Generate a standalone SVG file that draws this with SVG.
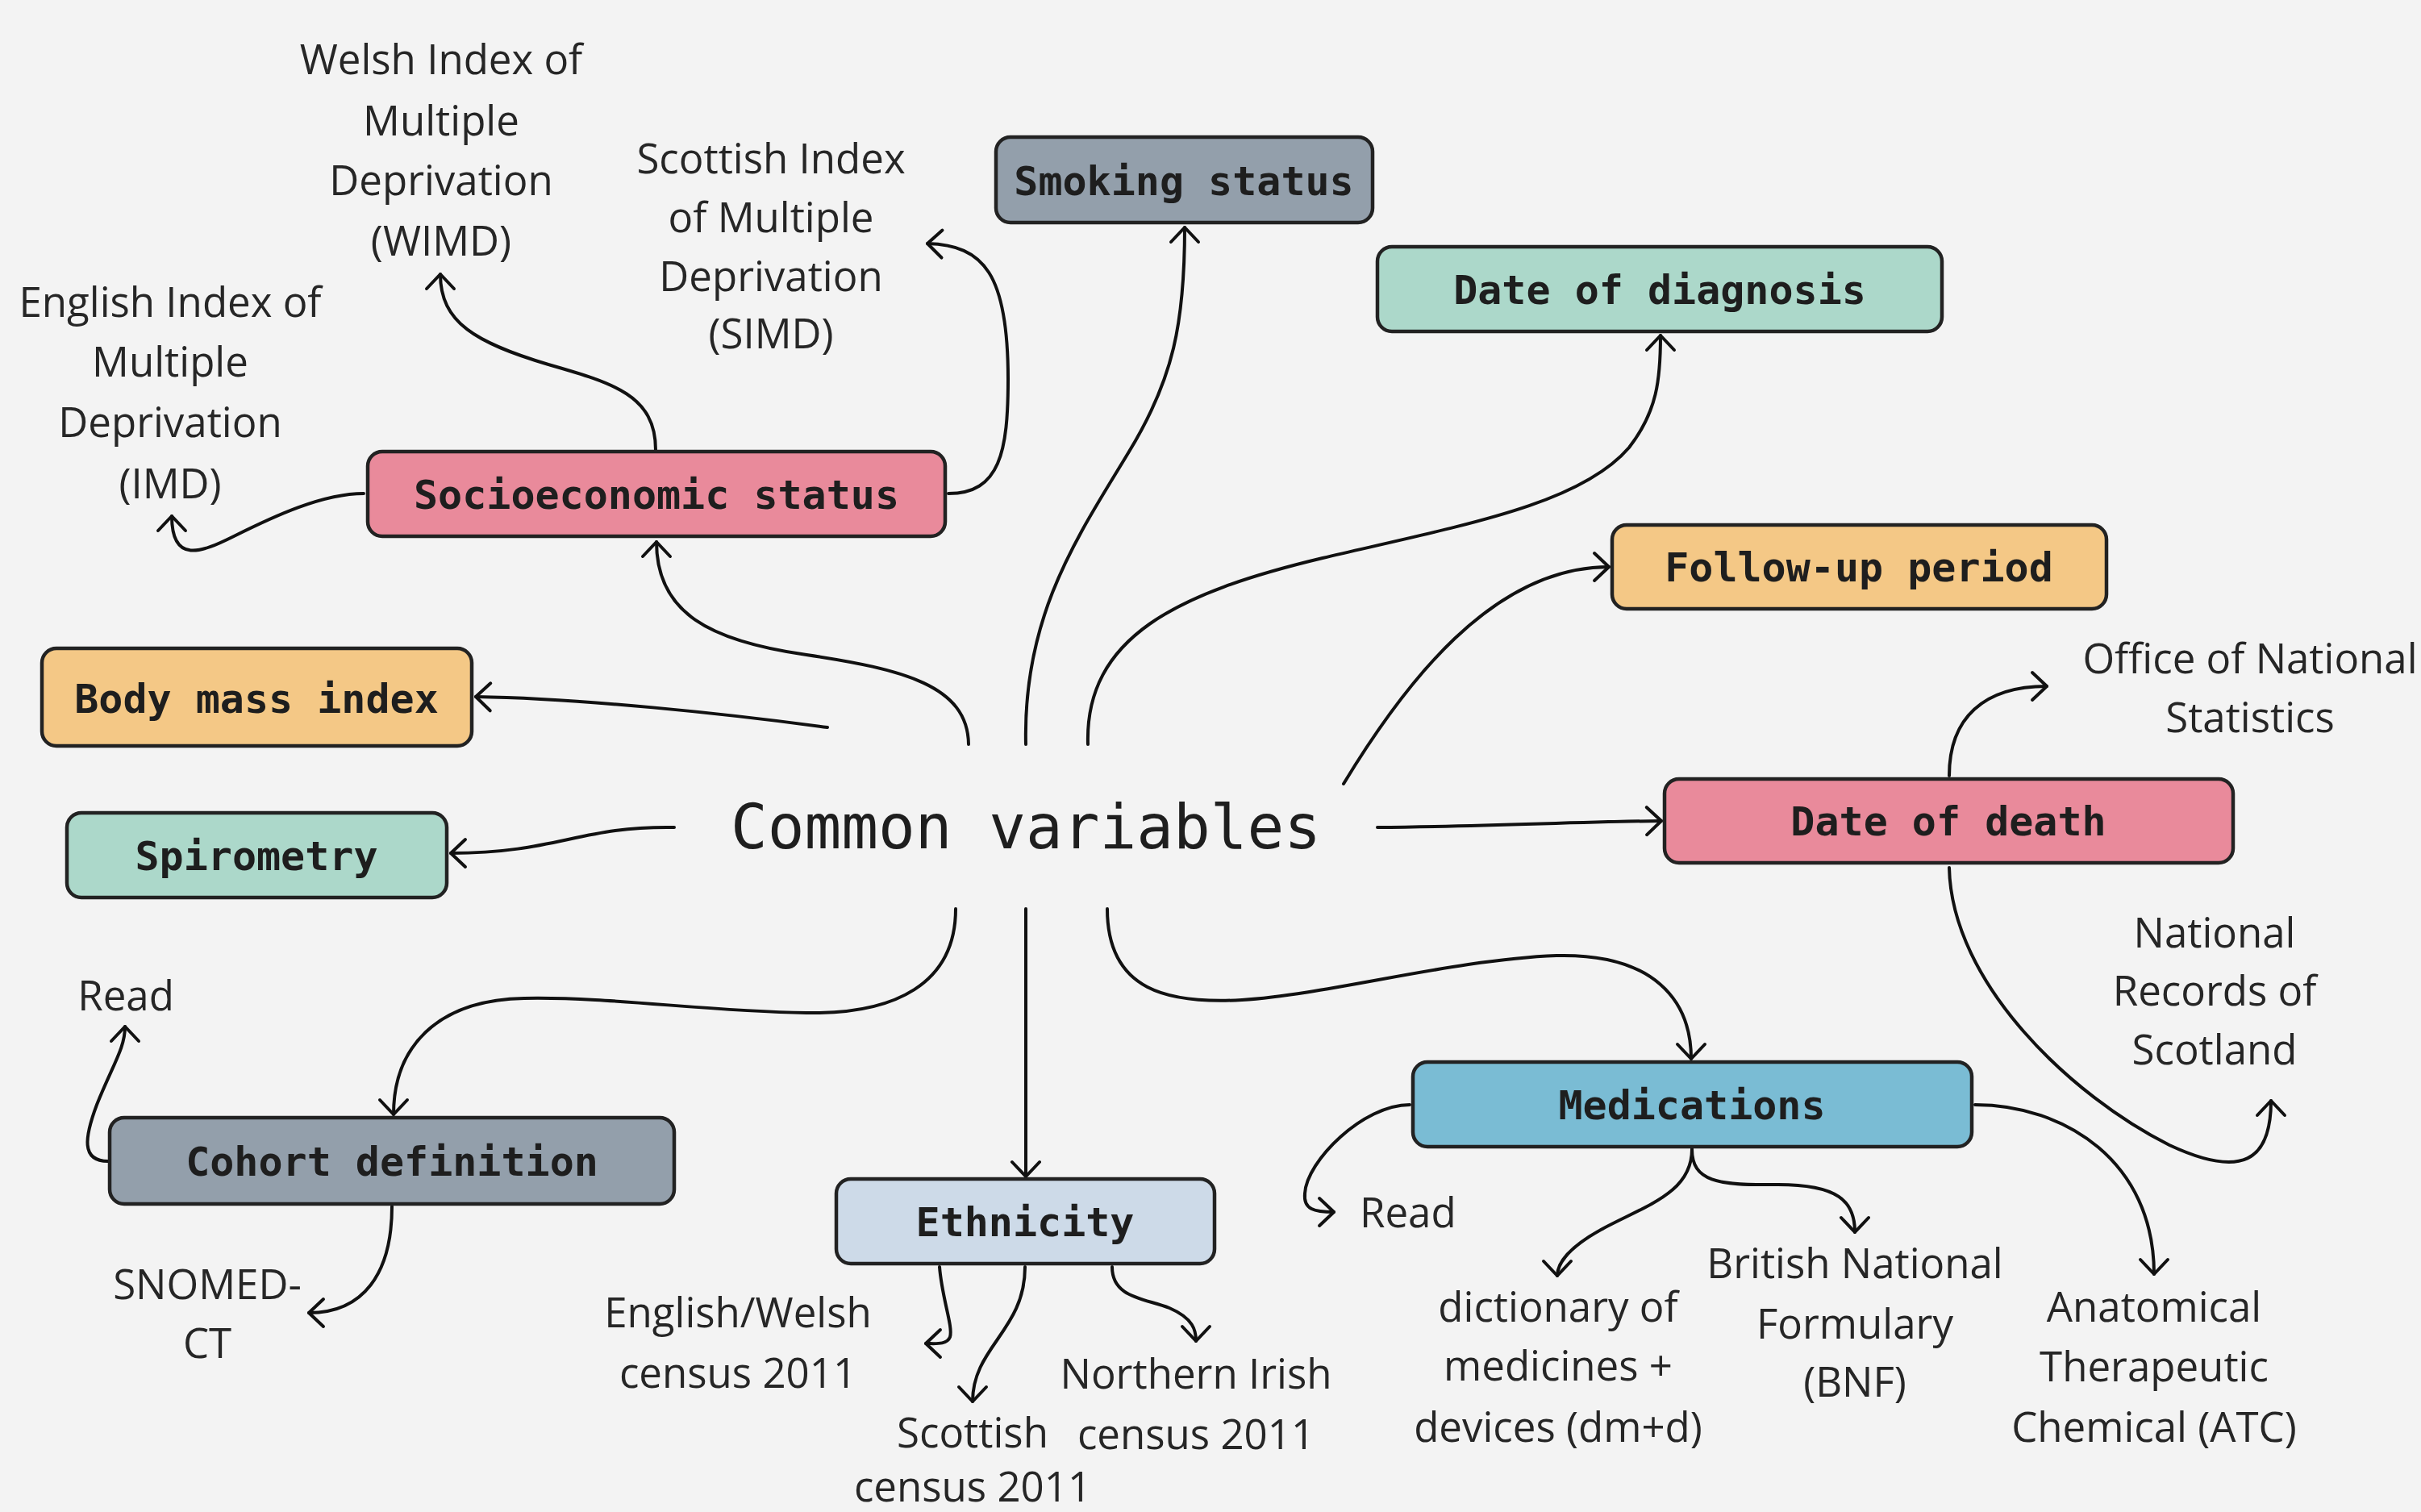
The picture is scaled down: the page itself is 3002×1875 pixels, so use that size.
<svg xmlns="http://www.w3.org/2000/svg" width="3002" height="1875" viewBox="0 0 3002 1875">
<style>
.box{stroke:#222;stroke-width:4.5}
.lbl{font-family:"DejaVu Sans Mono","Liberation Mono",monospace;font-weight:bold;font-size:50px;fill:#1e1e1e;text-anchor:middle}
.leaf{font-family:"Open Sans","Noto Sans",sans-serif;font-size:51px;fill:#262626;text-anchor:middle}
.c{fill:none;stroke:#111;stroke-width:4;stroke-linecap:round;marker-end:url(#ah)}
.pink{fill:#E98A9B}.slate{fill:#939FAB}.mint{fill:#ACD8CA}.peach{fill:#F4C886}.blue{fill:#7ABCD4}.light{fill:#CDDAE8}
</style>
<defs>
<marker id="ah" markerUnits="userSpaceOnUse" markerWidth="60" markerHeight="60" viewBox="-30 -30 60 60" refX="0" refY="0" orient="auto" overflow="visible">
<path d="M-18,-17 L0,0 L-18,17" fill="none" stroke="#111" stroke-width="4" stroke-linecap="round" stroke-linejoin="round"/>
</marker>
</defs>
<rect width="3002" height="1875" fill="#F3F3F3"/>

<g id="connectors">
<path class="c" d="M1201,923 C1200,850 1120,830 1000,812 C880,795 814,760 814,672"/>
<path class="c" d="M1272,923 C1268,760 1340,660 1400,560 C1455,470 1469,400 1469,282"/>
<path class="c" d="M1349,923 C1345,790 1460,735 1640,692 C1820,650 1960,625 2020,555 C2055,510 2059,470 2059,416"/>
<path class="c" d="M1026,902 C900,885 720,866 590,864"/>
<path class="c" d="M836,1026 C720,1024 690,1058 559,1058"/>
<path class="c" d="M1708,1026 C1850,1025 1950,1019 2060,1018"/>
<path class="c" d="M1666,972 C1740,850 1850,703 1995,703"/>
<path class="c" d="M1373,1127 C1373,1230 1450,1245 1540,1240 C1650,1233 1800,1190 1930,1185 C2050,1182 2097,1240 2097,1313"/>
<path class="c" d="M1185,1127 C1185,1220 1110,1258 1000,1256 C870,1254 760,1236 650,1238 C540,1240 488,1300 488,1382"/>
<path class="c" d="M1272,1127 L1272,1459"/>
<path class="c" d="M451,612 C400,612 340,640 290,665 C250,685 213,700 213,640"/>
<path class="c" d="M813,558 C813,490 760,475 680,452 C590,425 546,400 546,340"/>
<path class="c" d="M1176,612 C1240,612 1250,560 1250,470 C1250,340 1220,304 1150,302"/>
<path class="c" d="M2417,962 C2417,890 2460,851 2538,851"/>
<path class="c" d="M2417,1076 C2420,1220 2570,1360 2690,1420 C2780,1462 2816,1440 2816,1365"/>
<path class="c" d="M2449,1370 C2560,1370 2671,1440 2671,1580"/>
<path class="c" d="M1748,1370 C1690,1370 1620,1440 1618,1480 C1616,1500 1630,1503 1654,1503"/>
<path class="c" d="M2098,1425 C2098,1480 2040,1495 1985,1525 C1940,1550 1931,1570 1931,1582"/>
<path class="c" d="M2098,1425 C2098,1465 2130,1470 2200,1469 C2280,1468 2300,1490 2300,1528"/>
<path class="c" d="M1165,1571 C1168,1610 1182,1645 1178,1658 C1174,1668 1160,1666 1148,1666"/>
<path class="c" d="M1271,1571 C1271,1650 1206,1670 1206,1738"/>
<path class="c" d="M1379,1571 C1379,1610 1420,1610 1450,1622 C1480,1635 1483,1650 1483,1663"/>
<path class="c" d="M134,1440 C100,1440 105,1410 120,1370 C140,1320 155,1300 155,1273"/>
<path class="c" d="M486,1496 C486,1580 450,1628 383,1628"/>
</g>

<g id="center">
<text x="1272" y="1052" style="font-family:'DejaVu Sans Mono','Liberation Mono',monospace;font-size:76px;fill:#1e1e1e;text-anchor:middle">Common variables</text>
</g>

<g id="socioeconomic"><rect class="box pink" x="456" y="560" width="716" height="105" rx="18"/><text class="lbl" x="814" y="631">Socioeconomic status</text></g>
<g id="smoking"><rect class="box slate" x="1235" y="170" width="467" height="106" rx="18"/><text class="lbl" x="1468" y="242">Smoking status</text></g>
<g id="diagnosis"><rect class="box mint" x="1708" y="306" width="700" height="105" rx="18"/><text class="lbl" x="2058" y="377">Date of diagnosis</text></g>
<g id="followup"><rect class="box peach" x="1999" y="651" width="613" height="104" rx="18"/><text class="lbl" x="2305" y="721">Follow-up period</text></g>
<g id="death"><rect class="box pink" x="2064" y="966" width="705" height="104" rx="18"/><text class="lbl" x="2416" y="1036">Date of death</text></g>
<g id="medications"><rect class="box blue" x="1752" y="1317" width="693" height="105" rx="18"/><text class="lbl" x="2098" y="1388">Medications</text></g>
<g id="ethnicity"><rect class="box light" x="1037" y="1462" width="469" height="105" rx="18"/><text class="lbl" x="1271" y="1533">Ethnicity</text></g>
<g id="cohort"><rect class="box slate" x="136" y="1386" width="700" height="107" rx="18"/><text class="lbl" x="486" y="1458">Cohort definition</text></g>
<g id="spirometry"><rect class="box mint" x="83" y="1008" width="471" height="105" rx="18"/><text class="lbl" x="318" y="1079">Spirometry</text></g>
<g id="bmi"><rect class="box peach" x="52" y="804" width="533" height="121" rx="18"/><text class="lbl" x="318" y="884">Body mass index</text></g>

<g id="wimd" class="leaf"><text x="547" y="92">Welsh Index of</text><text x="547" y="168">Multiple</text><text x="547" y="242">Deprivation</text><text x="547" y="317">(WIMD)</text></g>
<g id="simd" class="leaf"><text x="956" y="215">Scottish Index</text><text x="956" y="288">of Multiple</text><text x="956" y="361">Deprivation</text><text x="956" y="432">(SIMD)</text></g>
<g id="imd" class="leaf"><text x="211" y="393">English Index of</text><text x="211" y="467">Multiple</text><text x="211" y="542">Deprivation</text><text x="211" y="618">(IMD)</text></g>
<g id="ons" class="leaf"><text x="2790" y="835">Office of National</text><text x="2790" y="908">Statistics</text></g>
<g id="nrs" class="leaf"><text x="2746" y="1175">National</text><text x="2746" y="1247">Records of</text><text x="2746" y="1320">Scotland</text></g>
<g id="read-cohort" class="leaf"><text x="156" y="1253">Read</text></g>
<g id="snomed" class="leaf"><text x="257" y="1611">SNOMED-</text><text x="257" y="1684">CT</text></g>
<g id="census-ew" class="leaf"><text x="915" y="1646">English/Welsh</text><text x="915" y="1721">census 2011</text></g>
<g id="census-scot" class="leaf"><text x="1206" y="1795">Scottish</text><text x="1206" y="1862">census 2011</text></g>
<g id="census-ni" class="leaf"><text x="1483" y="1722">Northern Irish</text><text x="1483" y="1797">census 2011</text></g>
<g id="read-med" class="leaf"><text x="1686" y="1522" style="text-anchor:start">Read</text></g>
<g id="dmd" class="leaf"><text x="1932" y="1639">dictionary of</text><text x="1932" y="1712">medicines +</text><text x="1932" y="1788">devices (dm+d)</text></g>
<g id="bnf" class="leaf"><text x="2300" y="1585">British National</text><text x="2300" y="1660">Formulary</text><text x="2300" y="1732">(BNF)</text></g>
<g id="atc" class="leaf"><text x="2671" y="1639">Anatomical</text><text x="2671" y="1713">Therapeutic</text><text x="2671" y="1788">Chemical (ATC)</text></g>
</svg>
